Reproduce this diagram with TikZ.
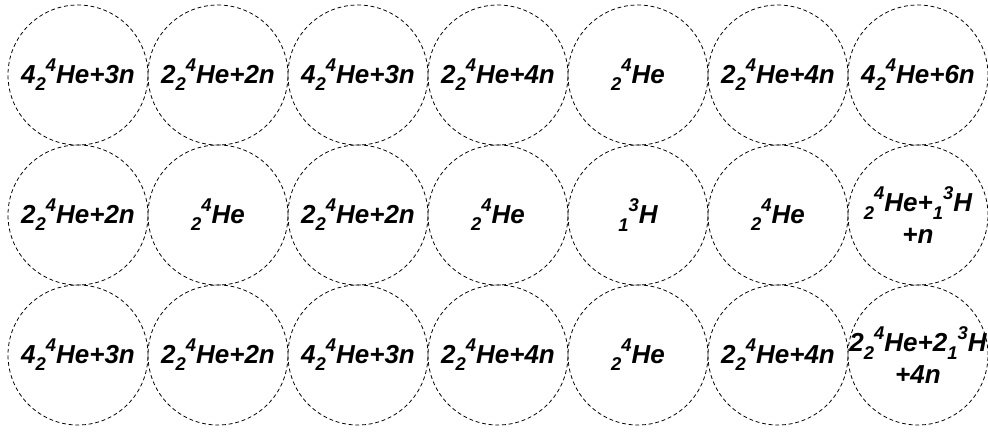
\documentclass[tikz,border=0pt]{standalone}
\usepackage{fontspec}
\setmainfont{Liberation Sans}
\usetikzlibrary{positioning}
% nucleus: sub then sup
\newcommand{\nuc}[2]{\raisebox{-0.55ex}{\fontsize{10.5}{11}\selectfont #1}\raisebox{0.85ex}{\fontsize{10.5}{11}\selectfont #2}}
\begin{document}
\begin{tikzpicture}[every node/.style={font=\fontsize{14.8}{18}\selectfont\bfseries\itshape},
 lbl/.style={align=center,inner sep=0pt,anchor=base},
 ring/.style={circle,draw,dash pattern=on 2.2pt off 1.6pt,line width=0.45pt,minimum size=2.8cm,inner sep=0pt,label={[lbl]center:#1}}]
\useasboundingbox (0,0) rectangle (19.76,-8.62);
% first row
\node[ring={4\nuc{2}{4}He+3n}] (a1) at (1.56,-1.5) {};
\node[ring={2\nuc{2}{4}He+2n}] (a2) at (4.36,-1.5) {};
\node[ring={4\nuc{2}{4}He+3n}] (a3) at (7.16,-1.5) {};
\node[ring={2\nuc{2}{4}He+4n}] (a4) at (9.96,-1.5) {};
\node[ring={\nuc{2}{4}He}] (a5) at (12.76,-1.5) {};
\node[ring={2\nuc{2}{4}He+4n}] (a6) at (15.56,-1.5) {};
\node[ring={4\nuc{2}{4}He+6n}] (a7) at (18.36,-1.5) {};
% second row
\node[ring={2\nuc{2}{4}He+2n}] (b1) at (1.56,-4.3) {};
\node[ring={\nuc{2}{4}He}] (b2) at (4.36,-4.3) {};
\node[ring={2\nuc{2}{4}He+2n}] (b3) at (7.16,-4.3) {};
\node[ring={\nuc{2}{4}He}] (b4) at (9.96,-4.3) {};
\node[ring={\nuc{1}{3}H}] (b5) at (12.76,-4.3) {};
\node[ring={\nuc{2}{4}He}] (b6) at (15.56,-4.3) {};
\node[ring={\nuc{2}{4}He+\nuc{1}{3}H\\+n}] (b7) at (18.36,-4.3) {};
% third row
\node[ring={4\nuc{2}{4}He+3n}] (c1) at (1.56,-7.1) {};
\node[ring={2\nuc{2}{4}He+2n}] (c2) at (4.36,-7.1) {};
\node[ring={4\nuc{2}{4}He+3n}] (c3) at (7.16,-7.1) {};
\node[ring={2\nuc{2}{4}He+4n}] (c4) at (9.96,-7.1) {};
\node[ring={\nuc{2}{4}He}] (c5) at (12.76,-7.1) {};
\node[ring={2\nuc{2}{4}He+4n}] (c6) at (15.56,-7.1) {};
\node[ring={2\nuc{2}{4}He+2\nuc{1}{3}H\\+4n}] (c7) at (18.36,-7.1) {};
\end{tikzpicture}
\end{document}
